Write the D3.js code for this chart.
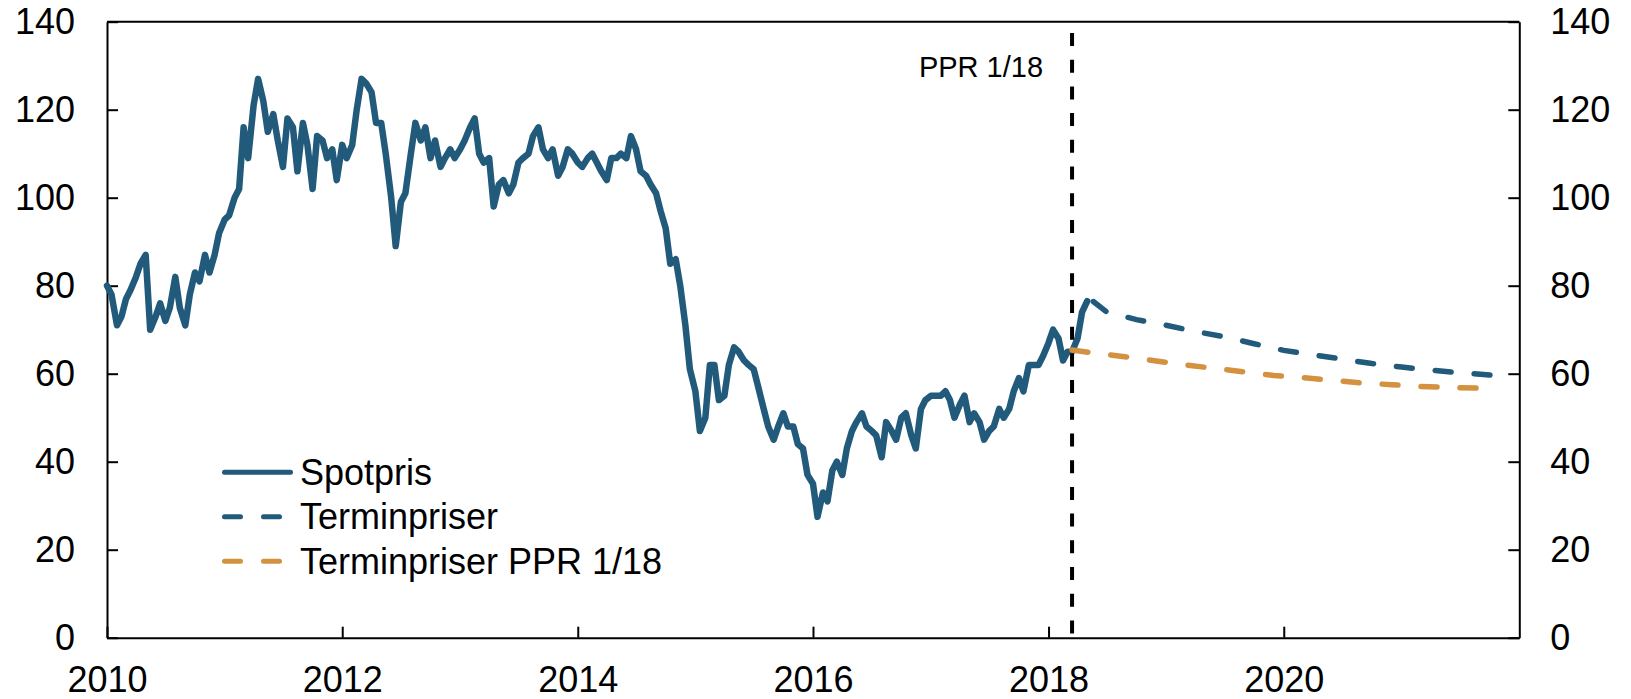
<!DOCTYPE html>
<html>
<head>
<meta charset="utf-8">
<script src="https://cdn.jsdelivr.net/npm/d3@7"></script>
<style>
  html, body { margin: 0; padding: 0; background: #fff; }
  svg text { font-family: "Liberation Sans", Arial, sans-serif; fill: #000; }
</style>
</head>
<body>
<svg id="chart" width="1631" height="699"></svg>
<script>
// spot price, values on the 1st and 15th of each month from Jan 2010
var spotStart = "2010-01-01";
var spotValues = [
  // 2010
  80, 78, 71, 73, 77, 79, 82, 85, 87, 70, 73, 76, 72, 75, 82, 75, 71, 78, 83, 81, 87, 83, 87, 92,
  // 2011
  95, 96, 100, 102, 116, 109, 121, 127, 122, 115, 119, 113, 107, 118, 116, 106, 117, 112, 102, 114, 113, 109, 111, 104,
  // 2012
  112, 109, 112, 120, 127, 126, 124, 117, 117, 110, 100, 89, 99, 101, 110, 117, 113, 116, 109, 113, 107, 109, 111, 109,
  // 2013
  111, 113, 116, 118, 110, 108, 109, 98, 103, 104, 101, 103, 108, 109, 110, 114, 116, 111, 109, 111, 105, 107, 111, 110,
  // 2014
  108, 107, 109, 110, 108, 106, 104, 109, 109, 110, 109, 114, 111, 106, 105, 103, 101, 97, 93, 85, 86, 80, 71, 61,
  // 2015
  56, 47, 50, 62, 62, 54, 55, 62, 66, 65, 63, 62, 61, 57, 52, 48, 45, 48, 51, 48, 48, 44, 43, 37,
  // 2016
  35, 27.5, 33, 31, 38, 40, 37, 43, 47, 49, 51, 48, 47, 46, 41, 49, 47, 45, 50, 51, 46, 43, 52, 54,
  // 2017
  55, 55, 55, 56, 54, 50, 53, 55, 49, 51, 49, 45, 47, 48, 52, 50, 52, 56, 59, 56, 62, 62, 62, 64,
  // 2018
  67, 70, 68, 63, 65, 65, 68, 74, 76.5
];

// forward curves
var fwdDates = ["2018-05-20", "2018-07-01", "2018-10-01", "2019-01-01", "2019-04-01", "2019-07-01",
  "2019-10-01", "2020-01-01", "2020-04-01", "2020-07-01", "2020-10-01", "2021-01-01",
  "2021-04-01", "2021-07-01", "2021-10-01", "2021-12-01"];
var fwdValues = [76.4, 74.0, 72.3, 71.0, 69.6, 68.4, 66.8, 65.3, 64.3, 63.3, 62.3, 61.5, 60.8, 60.2, 59.7, 59.4];

var pprDates = ["2018-03-15", "2018-06-01", "2018-09-01", "2018-12-01", "2019-03-01", "2019-06-01",
  "2019-09-01", "2019-12-01", "2020-03-01", "2020-06-01", "2020-09-01", "2020-12-01",
  "2021-03-01", "2021-06-01", "2021-09-01", "2021-10-25"];
var pprValues = [65.4, 64.6, 63.8, 62.9, 62.0, 61.2, 60.4, 59.6, 59.1, 58.5, 57.9, 57.5, 57.1, 56.9, 56.7, 56.6];

var pprMarkDate = "2018-03-15";
var pprMarkLabel = "PPR 1/18";

var yTicks = [0, 20, 40, 60, 80, 100, 120, 140];
var xTickYears = [2010, 2012, 2014, 2016, 2018, 2020];

var legendNames = ["Spotpris", "Terminpriser", "Terminpriser PPR 1/18"];

var blue = "#215a7a", orange = "#d4913f";

var parse = d3.timeParse("%Y-%m-%d");

// dates for the spot series: 1st and 15th of every month
var spotData = spotValues.map(function (v, i) {
  var m = d3.timeMonth.offset(parse(spotStart), Math.floor(i / 2));
  var d = i % 2 === 0 ? m : d3.timeDay.offset(m, 14);
  return { date: d, value: v };
});
var fwdData = fwdDates.map(function (d, i) { return { date: parse(d), value: fwdValues[i] }; });
var pprData = pprDates.map(function (d, i) { return { date: parse(d), value: pprValues[i] }; });

var plotL = 107, plotR = 1519.3, plotT = 21.7, plotB = 637.7;

var svg = d3.select("#chart");

var x = d3.scaleTime()
  .domain([new Date(2010, 0, 1), new Date(2022, 0, 1)])
  .range([plotL, plotR]);
var y = d3.scaleLinear().domain([0, 140]).range([plotB, plotT]);

var line = d3.line()
  .x(function (d) { return x(d.date); })
  .y(function (d) { return y(d.value); });

// top frame line
svg.append("line")
  .attr("x1", plotL).attr("x2", plotR)
  .attr("y1", plotT).attr("y2", plotT)
  .attr("stroke", "#000").attr("stroke-width", 2);

// axes
var gx = svg.append("g")
  .attr("transform", "translate(0," + plotB + ")")
  .call(d3.axisBottom(x)
    .tickValues(xTickYears.map(function (yr) { return new Date(yr, 0, 1); }))
    .tickFormat(d3.timeFormat("%Y"))
    .tickSizeInner(-11).tickSizeOuter(0).tickPadding(29));

var gl = svg.append("g")
  .attr("transform", "translate(" + plotL + ",0)")
  .call(d3.axisLeft(y).tickValues(yTicks)
    .tickSizeInner(-11).tickSizeOuter(0).tickPadding(32));

var gr = svg.append("g")
  .attr("transform", "translate(" + plotR + ",0)")
  .call(d3.axisRight(y).tickValues(yTicks)
    .tickSizeInner(-11).tickSizeOuter(0).tickPadding(31));

[gx, gl, gr].forEach(function (g) {
  g.selectAll(".domain").attr("stroke", "#000").attr("stroke-width", 2);
  g.selectAll(".tick line").attr("stroke", "#000").attr("stroke-width", 2);
  g.selectAll(".tick text")
    .style("font-family", "'Liberation Sans', Arial, sans-serif")
    .style("font-size", "36px")
    .attr("fill", "#000");
});

// series
svg.append("path")
  .datum(spotData)
  .attr("d", line)
  .attr("fill", "none")
  .attr("stroke", blue)
  .attr("stroke-width", 6.5)
  .attr("stroke-linejoin", "round")
  .attr("stroke-linecap", "round");

svg.append("path")
  .datum(fwdData)
  .attr("d", line)
  .attr("fill", "none")
  .attr("stroke", blue)
  .attr("stroke-width", 5.5)
  .attr("stroke-dasharray", "16,23")
  .attr("stroke-linecap", "round");

svg.append("path")
  .datum(pprData)
  .attr("d", line)
  .attr("fill", "none")
  .attr("stroke", orange)
  .attr("stroke-width", 5.5)
  .attr("stroke-dasharray", "16,23")
  .attr("stroke-linecap", "round");

// PPR 1/18 marker
var xm = x(parse(pprMarkDate));
svg.append("line")
  .attr("x1", xm).attr("x2", xm)
  .attr("y1", 33).attr("y2", plotB)
  .attr("stroke", "#000")
  .attr("stroke-width", 4)
  .attr("stroke-dasharray", "13,13.7");

svg.append("text")
  .attr("x", xm - 29)
  .attr("y", 76.5)
  .attr("text-anchor", "end")
  .style("font-size", "29px")
  .text(pprMarkLabel);

// legend
var legendRows = [
  { name: legendNames[0], color: blue, dash: null },
  { name: legendNames[1], color: blue, dash: "16,23" },
  { name: legendNames[2], color: orange, dash: "16,23" }
];
var lg = svg.append("g");
legendRows.forEach(function (r, i) {
  var ly = 472.3 + i * 44.5;
  lg.append("line")
    .attr("x1", 224.5).attr("x2", 290.5)
    .attr("y1", ly).attr("y2", ly)
    .attr("stroke", r.color)
    .attr("stroke-width", 5)
    .attr("stroke-linecap", "round")
    .attr("stroke-dasharray", r.dash);
  lg.append("text")
    .attr("x", 300)
    .attr("y", ly + 12.5)
    .style("font-size", "36px")
    .text(r.name);
});
</script>
</body>
</html>
